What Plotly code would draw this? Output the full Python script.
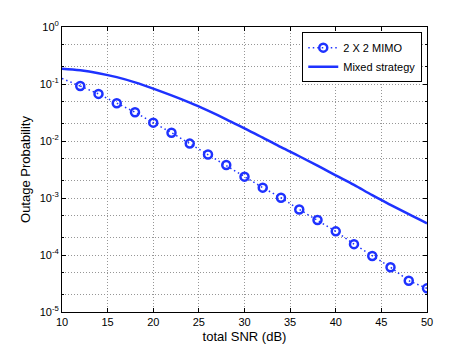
import plotly.graph_objects as go

snr_mixed = [10, 12, 14, 16, 18, 20, 22, 24, 26, 28, 30, 32, 34, 36, 38, 40, 42, 44, 46, 48, 50]
p_mixed = [0.186, 0.174, 0.155, 0.132, 0.107, 0.083, 0.063, 0.047, 0.034, 0.024, 0.0166,
           0.0115, 0.0078, 0.0054, 0.0037, 0.0025, 0.0017, 0.00112, 0.00076, 0.00052, 0.00036]

snr_mimo = [12, 14, 16, 18, 20, 22, 24, 26, 28, 30, 32, 34, 36, 38, 40, 42, 44, 46, 48, 50]
p_mimo = [0.092, 0.067, 0.046, 0.032, 0.021, 0.014, 0.0090, 0.0058, 0.0038, 0.00237,
          0.00152, 0.00101, 0.00063, 0.00041, 0.00026, 0.000155, 0.000096, 0.000061, 0.0000354, 0.000026]
snr_mimo_start = [10, 12]
p_mimo_start = [0.125, 0.092]

y_tickvals = [1, 0.1, 0.01, 0.001, 0.0001, 0.00001]
y_ticktext = ["10<sup>0</sup>", "10<sup>-1</sup>", "10<sup>-2</sup>", "10<sup>-3</sup>",
              "10<sup>-4</sup>", "10<sup>-5</sup>"]
x_tickvals = [10, 15, 20, 25, 30, 35, 40, 45, 50]

blue = "rgb(30,50,255)"
gridc = "rgb(150,150,150)"
font = "Liberation Sans, Arial, sans-serif"

fig = go.Figure()
fig.add_trace(go.Scatter(x=snr_mimo_start, y=p_mimo_start, mode="lines",
                         line=dict(color=blue, width=1.5, dash="1.5px,3px"), showlegend=False))
fig.add_trace(go.Scatter(x=snr_mimo, y=p_mimo, mode="lines+markers", name="2 X 2 MIMO",
                         line=dict(color=blue, width=1.5, dash="1.5px,3px"),
                         marker=dict(symbol="circle-open", size=8, color=blue,
                                     line=dict(width=2.5, color=blue))))
fig.add_trace(go.Scatter(x=snr_mixed, y=p_mixed, mode="lines", name="Mixed strategy",
                         line=dict(color=blue, width=2.5, shape="spline")))

fig.update_layout(
    width=471, height=353,
    margin=dict(l=54, r=52, t=19, b=49),
    paper_bgcolor="white", plot_bgcolor="white",
    font=dict(family=font, size=11, color="black"),
    legend=dict(x=0.987, y=0.982, xanchor="right", yanchor="top",
                bgcolor="white", bordercolor="black", borderwidth=1,
                font=dict(size=11), tracegroupgap=0, itemwidth=30),
    showlegend=True,
)
fig.update_xaxes(
    range=[10, 50], tickvals=x_tickvals,
    showline=True, linecolor="black", linewidth=1, mirror="ticks",
    ticks="inside", ticklen=4, tickcolor="black",
    showgrid=True, gridcolor=gridc, griddash="1px,2px", gridwidth=1,
    zeroline=False, automargin=False,
    title=dict(text="total SNR (dB)", standoff=4),
)
fig.update_yaxes(
    type="log", range=[-5, 0], tickvals=y_tickvals, ticktext=y_ticktext,
    showline=True, linecolor="black", linewidth=1, mirror="ticks",
    ticks="inside", ticklen=4, tickcolor="black",
    showgrid=True, gridcolor=gridc, griddash="1px,2px", gridwidth=1,
    minor=dict(ticks="inside", ticklen=2, tickcolor="black", showgrid=True,
               gridcolor=gridc, griddash="1px,2px", gridwidth=1),
    zeroline=False, automargin=False,
    title=dict(text="Outage Probability", standoff=6),
)
fig.write_html("out.html")
